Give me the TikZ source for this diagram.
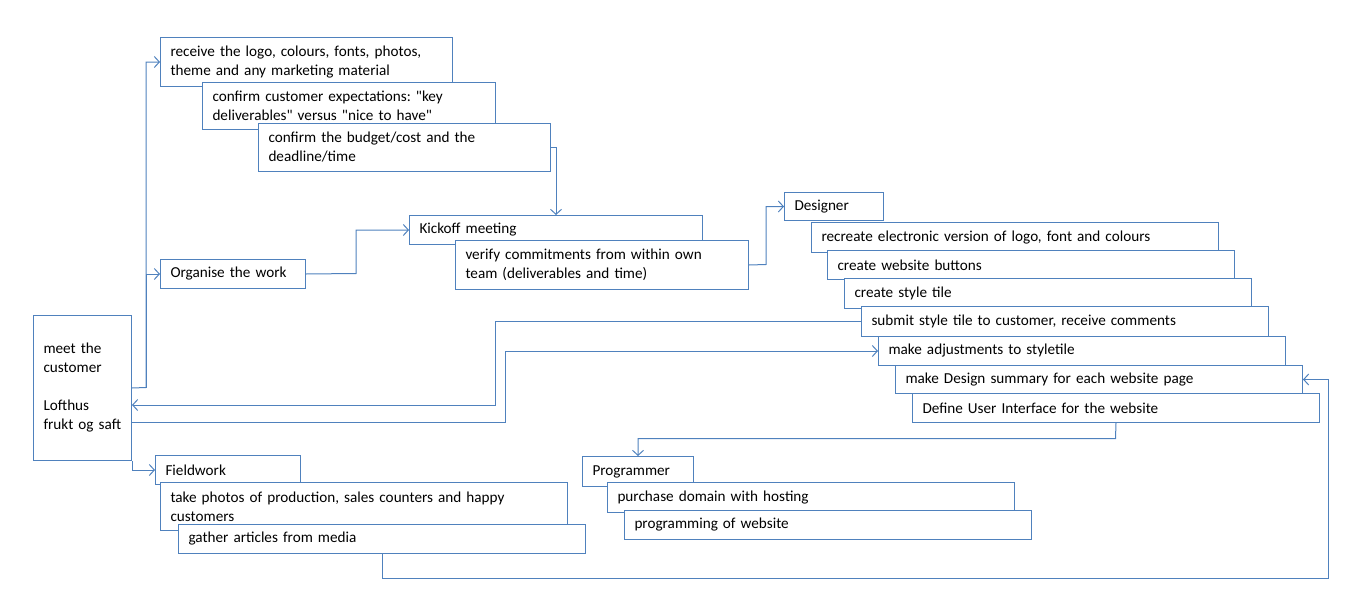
\documentclass[tikz,border=0pt]{standalone}
\usepackage{fontspec}
\setmainfont{Carlito}[Ligatures=TeXOff]
\usetikzlibrary{arrows.meta}
\definecolor{lineblue}{HTML}{4F81BD}
\newcommand\boxfont{\fontsize{15.2}{19}\selectfont}
\frenchspacing
\begin{document}
\begin{tikzpicture}[x=1pt,y=-1pt,
  box/.style={draw=lineblue, fill=white, line width=1pt, inner xsep=10pt,
    inner ysep=0pt, align=left, anchor=north west, font=\boxfont},
  link/.style={draw=lineblue, line width=1pt},
  arr/.style={link, -{Straight Barb[length=5pt,width=11pt]}}]
\useasboundingbox (0,0) rectangle (1349,597);

% customer
\node[box, text width=78pt, minimum height=145pt] (cust) at (33,315)
  {meet the\\customer\\[19pt]Lofthus\\frukt og saft};

% preparation with the customer
\node[box, text width=272pt, minimum height=49pt] (recv) at (160,37)
  {receive the logo, colours, fonts, photos,\\theme and any marketing material};
\node[box, text width=273pt, minimum height=47pt] (expect) at (202,82)
  {confirm customer expectations: "key\\deliverables" versus "nice to have"};
\node[box, text width=272pt, minimum height=48pt] (budget) at (258,123)
  {confirm the budget/cost and the\\deadline/time};

% organising
\node[box, text width=125pt, minimum height=29pt] (org) at (160,259) {Organise the work};
\node[box, text width=273pt, minimum height=29pt] (kick) at (409,215) {Kickoff meeting};
\node[box, text width=273pt, minimum height=49pt] (verify) at (455,240)
  {verify commitments from within own\\team (deliverables and time)};

% designer tasks
\node[box, text width=79pt, minimum height=28pt] (designer) at (784,192) {Designer};
\node[box, text width=387pt, minimum height=30pt] (recreate) at (811,222)
  {recreate electronic version of logo, font and colours};
\node[box, text width=387pt, minimum height=29pt] (buttons) at (827,250) {create website buttons};
\node[box, text width=387pt, minimum height=30pt] (tile) at (844,278) {create style tile};
\node[box, text width=387pt, minimum height=30pt] (submit) at (861,306)
  {submit style tile to customer, receive comments};
\node[box, text width=387pt, minimum height=29pt] (adjust) at (878,336) {make adjustments to styletile};
\node[box, text width=387pt, minimum height=28pt] (summary) at (895,365)
  {make Design summary for each website page};
\node[box, text width=387pt, minimum height=29pt] (ui) at (912,393)
  {Define User Interface for the website};

% fieldwork
\node[box, text width=125pt, minimum height=29pt] (field) at (155,455) {Fieldwork};
\node[box, text width=387pt, minimum height=48pt] (photos) at (160,482)
  {take photos of production, sales counters and happy\\customers};
\node[box, text width=387pt, minimum height=29pt] (gather) at (178,524)
  {gather articles from media};

% programmer tasks
\node[box, text width=91pt, minimum height=30pt] (prog) at (582,456) {Programmer};
\node[box, text width=387pt, minimum height=30pt] (purchase) at (607,482)
  {purchase domain with hosting};
\node[box, text width=387pt, minimum height=29pt] (coding) at (624,510)
  {programming of website};

% connectors
\coordinate (trunk) at (146,387.5);
\draw[arr] (cust.east) -- (trunk) |- (recv.west);
\draw[arr] (trunk) |- (org.west);
\draw[arr] (cust.south east) |- (field.west);
\draw[arr] (budget.east) -| (kick.north);
\draw[arr] (org.east) -- (356,273.5) |- (kick.west);
\draw[arr] (verify.east) -- (766,264.5) |- (designer.west);
\draw[arr] (submit.west) -| (495,405) -- (cust.east |- 0,405);
\draw[arr] (cust.east |- 0,422) -- (505,422) |- (adjust.west);
\draw[arr] (ui.south) -- (1115.5,438.5) -| (prog.north);
\draw[arr] (gather.south) |- (1328,578.5) |- (summary.east);
\end{tikzpicture}
\end{document}
